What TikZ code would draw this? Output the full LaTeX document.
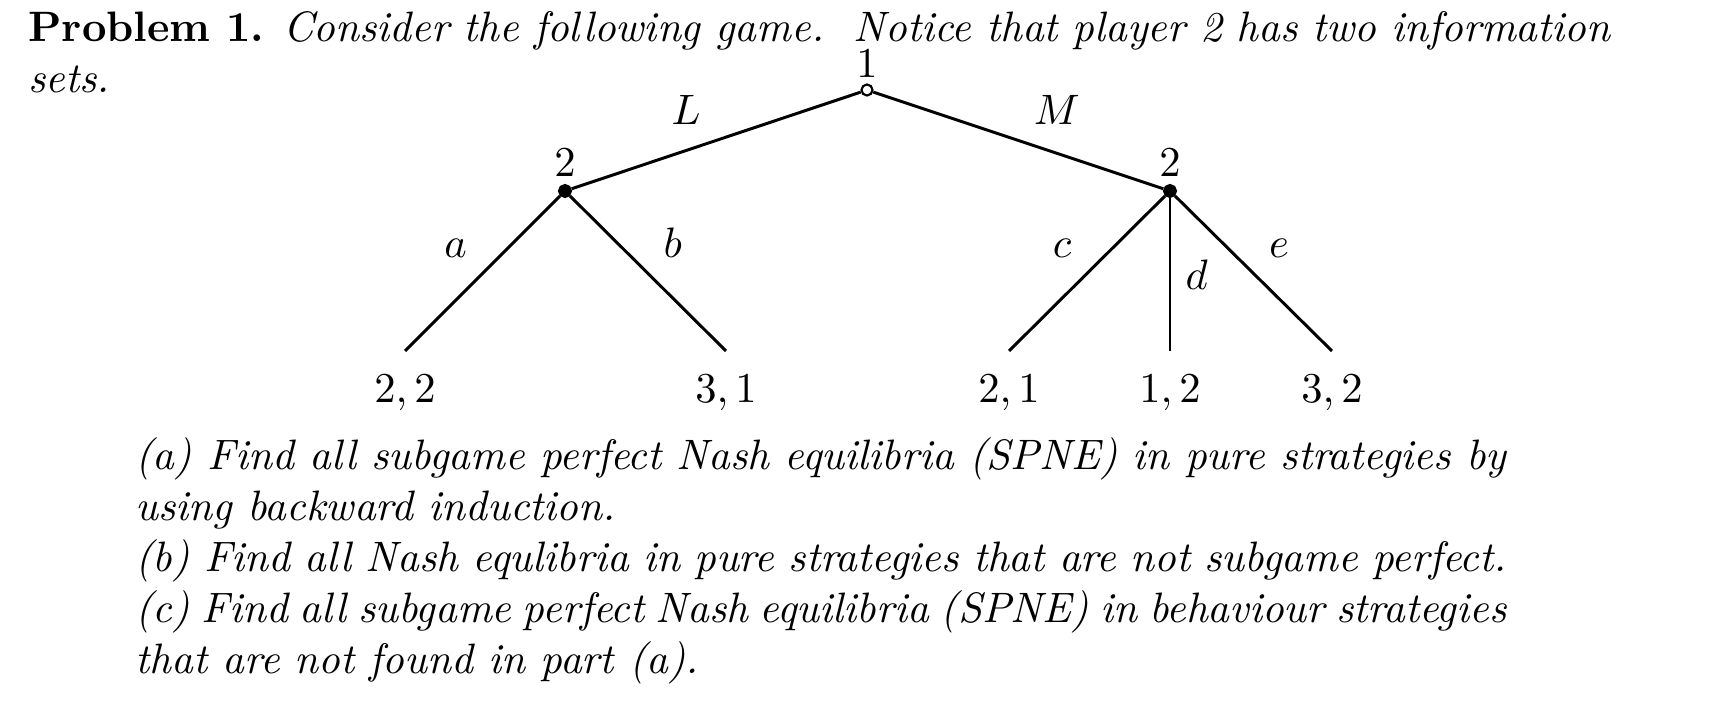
\documentclass[tikz,border=0pt]{standalone}
\begin{document}
\begin{tikzpicture}[x=0.826cm,y=0.826cm,line width=0.7pt,
  opennode/.style={circle,draw,fill=white,inner sep=0pt,minimum size=2.6pt,line width=0.5pt},
  fillnode/.style={circle,draw,fill=black,inner sep=0pt,minimum size=2.6pt},
  payoff/.style={label distance=2pt},
  textblock/.style={inner sep=0pt,anchor=base west,align=justify}]
 \useasboundingbox (0,0) rectangle (17.2,-7.22);
 % the question text
 \node[textblock,text width=15.82*0.826cm] (head) at (0.27,-0.417)
  {\textbf{Problem 1.} \textit{Consider the following game.\ \ Notice that player 2 has two information sets.}};
 \node[textblock,text width=13.71*0.826cm] (parts) at (1.34,-4.695)
  {\itshape (a) Find all subgame perfect Nash equilibria (SPNE) in pure strategies by using backward induction.\par
  (b) Find all Nash equlibria in pure strategies that are not subgame perfect.\par
  (c) Find all subgame perfect Nash equilibria (SPNE) in behaviour strategies that are not found in part (a).};
 % the game tree
 \node[opennode,label={[inner sep=1pt]above:$1$}] (one) at (8.67,-0.90) {};
 \node[fillnode,label={[inner sep=1.5pt]above:$2$}] (twoL) at (5.65,-1.91) {};
 \node[fillnode,label={[inner sep=1.5pt]above:$2$}] (twoM) at (11.70,-1.91) {};
 \coordinate[label={[payoff]below:$2,2$}] (ta) at (4.05,-3.51);
 \coordinate[label={[payoff]below:$3,1$}] (tb) at (7.26,-3.51);
 \coordinate[label={[payoff]below:$2,1$}] (tc) at (10.09,-3.51);
 \coordinate[label={[payoff]below:$1,2$}] (td) at (11.70,-3.51);
 \coordinate[label={[payoff]below:$3,2$}] (te) at (13.32,-3.51);
 \draw (one) -- node[above left] {$L$} (twoL);
 \draw (one) -- node[above right] {$M$} (twoM);
 \draw (twoL) -- node[above left] {$a$} (ta);
 \draw (twoL) -- node[above right] {$b$} (tb);
 \draw (twoM) -- node[above left] {$c$} (tc);
 \draw (twoM) -- node[right] {$d$} (td);
 \draw (twoM) -- node[above right] {$e$} (te);
\end{tikzpicture}
\end{document}
